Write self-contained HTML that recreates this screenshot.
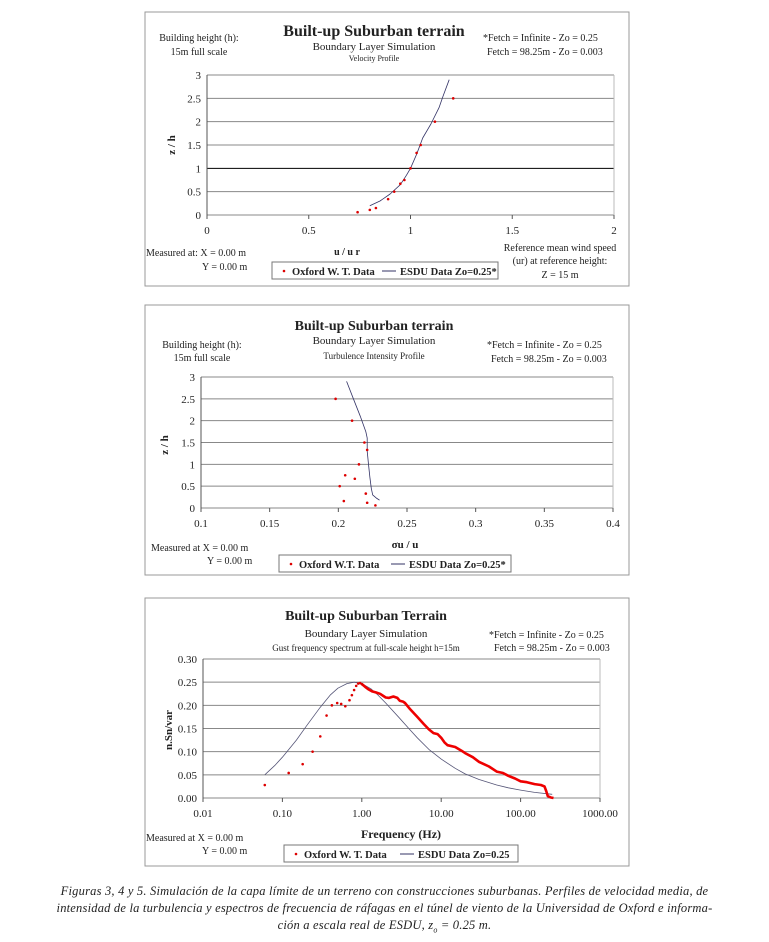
<!DOCTYPE html>
<html><head><meta charset="utf-8"><style>
body{margin:0;background:#fff;width:769px;height:942px;overflow:hidden;font-family:"Liberation Serif",serif}
svg text{font-family:"Liberation Serif",serif;fill:#222}
.cap{position:absolute;left:0;top:883px;width:769px;text-align:center;font-style:italic;font-size:12.5px;line-height:17px;color:#222;letter-spacing:0.2px}
</style></head><body>
<svg id="s" width="769" height="942" style="position:absolute;left:0;top:0">
<g id="c1"></g>
<g id="c2"></g>
<g id="c3"></g>
</svg>
<div class="cap">Figuras 3, 4 y 5. Simulación de la capa límite de un terreno con construcciones suburbanas. Perfiles de velocidad media, de<br>intensidad de la turbulencia y espectros de frecuencia de ráfagas en el túnel de viento de la Universidad de Oxford e informa-<br>ción a escala real de ESDU, <i>z</i><sub style="font-size:8px">o</sub> = 0.25 m.</div>
<script>
// Chart 1 data
const velX=[0.74,0.80,0.83,0.89,0.92,0.95,0.97,1.0,1.03,1.05,1.12,1.21];
const velZ=[0.06,0.11,0.15,0.34,0.5,0.67,0.75,1.0,1.33,1.5,2.0,2.5];
const velEsduX=[0.8,0.85,0.9,0.95,0.98,1.0,1.03,1.06,1.1,1.14,1.16,1.19];
const velEsduZ=[0.2,0.3,0.45,0.65,0.85,1.0,1.3,1.65,1.95,2.3,2.55,2.9];
const velXTicks=[0,0.5,1,1.5,2];
const zTicks=[0,0.5,1,1.5,2,2.5,3];
// Chart 2 data
const tiX=[0.198,0.210,0.219,0.221,0.215,0.205,0.212,0.201,0.220,0.204,0.221,0.227];
const tiZ=[2.5,2.0,1.5,1.33,1.0,0.75,0.67,0.5,0.33,0.16,0.12,0.06];
const tiEsduX=[0.206,0.211,0.216,0.220,0.221,0.221,0.222,0.223,0.224,0.225,0.228,0.230];
const tiEsduZ=[2.9,2.5,2.1,1.75,1.6,1.3,1.0,0.7,0.45,0.3,0.22,0.18];
const tiXTicks=[0.1,0.15,0.2,0.25,0.3,0.35,0.4];
// Chart 3 data
const spPtF=[0.06,0.12,0.18,0.24,0.30,0.36,0.42,0.49,0.55,0.62,0.70,0.75,0.8,0.85,0.9,0.95,1.0];
const spPtS=[0.028,0.054,0.073,0.10,0.133,0.178,0.20,0.205,0.203,0.198,0.211,0.222,0.233,0.242,0.247,0.248,0.246];
const spDenseF=[1.0,1.1,1.2,1.35,1.5,1.7,2,2.2,2.5,2.8,3,3.3,3.5,4,5,6,7,8,9,10,11,12,15,18,20,25,30,40,50,60,70,85,100,120,150,180,200,210,220,240,260];
const spDenseS=[0.246,0.24,0.235,0.23,0.228,0.225,0.217,0.216,0.219,0.216,0.21,0.208,0.205,0.193,0.175,0.16,0.148,0.14,0.138,0.13,0.12,0.114,0.11,0.102,0.097,0.088,0.078,0.068,0.057,0.054,0.048,0.042,0.036,0.034,0.030,0.028,0.025,0.015,0.004,0.001,0.0];
const spEsduF=[0.06,0.08,0.1,0.15,0.2,0.3,0.4,0.5,0.65,0.8,1,1.3,1.6,2,3,4,5,7,10,15,20,30,50,70,100,150,250];
const spEsduS=[0.05,0.07,0.088,0.125,0.155,0.196,0.222,0.237,0.247,0.25,0.247,0.236,0.222,0.205,0.172,0.148,0.13,0.105,0.084,0.064,0.052,0.04,0.028,0.022,0.017,0.012,0.008];
const spYTicks=[0,0.05,0.10,0.15,0.20,0.25,0.30];
const spXTicks=[0.01,0.1,1,10,100,1000];

const NS="http://www.w3.org/2000/svg";
function el(p,t,a,txt){const e=document.createElementNS(NS,t);for(const k in a)e.setAttribute(k,a[k]);if(txt!==undefined)e.textContent=txt;p.appendChild(e);return e;}

function chart(g,o){
  const box=el(g,'rect',{x:145,y:o.by,width:484,height:o.bh,fill:'#fff',stroke:'#999'});
  
  
  const sx=v=>o.x0+(o.fx(v)-o.fx(o.xmin))/(o.fx(o.xmax)-o.fx(o.xmin))*(o.x1-o.x0);
  const sy=v=>o.y0-(v-o.ymin)/(o.ymax-o.ymin)*(o.y0-o.y1);
  o.yt.forEach(v=>{
    const l=el(g,'line',{x1:o.x0,x2:o.x1,y1:sy(v),y2:sy(v),stroke:(o.dark&&v===1)?'#000':'#888','stroke-width':1});
    
    
    const t=el(g,'text',{x:o.x0-6,y:sy(v)+4,'font-size':11,'text-anchor':'end'},o.yfmt(v));
    
    
  });
  el(g,'line',{x1:o.x0,x2:o.x0,y1:o.y0,y2:o.y1,stroke:'#555'});
  el(g,'line',{x1:o.x1,x2:o.x1,y1:o.y0,y2:o.y1,stroke:'#bbb'});
  o.xt.forEach(v=>{
    el(g,'line',{x1:sx(v),x2:sx(v),y1:o.y0,y2:o.y0+4,stroke:'#555'});
    const t=el(g,'text',{x:sx(v),y:o.y0+19,'font-size':11,'text-anchor':'middle'},o.xfmt(v));
    
    
  });
  o.lines.forEach(L=>{
    const d=L.x.map((v,i)=>(i?'L':'M')+sx(v).toFixed(1)+','+sy(L.y[i]).toFixed(1)).join('');
    const p=el(g,'path',{d:d,fill:'none',stroke:L.c,'stroke-width':L.w,'stroke-linejoin':'round'});
    
    
  });
  o.pts.forEach(P=>{
    P.x.forEach((v,i)=>{
      const c=el(g,'circle',{cx:sx(v),cy:sy(P.y[i]),r:1.3,fill:'#d00'});
      
      
    });
  });
}
const lin=v=>v, lg=v=>Math.log10(v);
const c1=document.getElementById('c1'),c2=document.getElementById('c2'),c3=document.getElementById('c3');
chart(c1,{by:12,bh:274,x0:207,x1:614,y0:215,y1:75,xmin:0,xmax:2,ymin:0,ymax:3,fx:lin,xt:velXTicks,yt:zTicks,xfmt:v=>String(v),yfmt:v=>String(v),dark:true,
  lines:[{x:velEsduX,y:velEsduZ,c:'#336',w:0.8,name:'esdu-line'}],pts:[{x:velX,y:velZ}]});
chart(c2,{by:305,bh:270,x0:201,x1:613,y0:508,y1:377,xmin:0.1,xmax:0.4,ymin:0,ymax:3,fx:lin,xt:tiXTicks,yt:zTicks,xfmt:v=>String(v),yfmt:v=>String(v),
  lines:[{x:tiEsduX,y:tiEsduZ,c:'#336',w:0.8,name:'esdu-line'}],pts:[{x:tiX,y:tiZ}]});
chart(c3,{by:598,bh:268,x0:203,x1:600,y0:798,y1:659,xmin:0.01,xmax:1000,ymin:0,ymax:0.3,fx:lg,xt:spXTicks,yt:spYTicks,xfmt:v=>v.toFixed(2),yfmt:v=>v.toFixed(2),
  lines:[{x:spEsduF,y:spEsduS,c:'#557',w:0.8,name:'esdu-line'},{x:spDenseF,y:spDenseS,c:'#e00',w:2.6,name:'oxford-dense-line'}],pts:[{x:spPtF,y:spPtS}]});

function txt(g,x,y,s,sz,opt){const a={x:x,y:y,'font-size':sz,'text-anchor':(opt&&opt.a)||'start'};if(opt&&opt.b)a['font-weight']='bold';const t=el(g,'text',a,s);return t;}
function legend(g,x,y,w,a,b,lx){
  const r=el(g,'rect',{x:x,y:y,width:w,height:17,fill:'#fff',stroke:'#777'});
  
  
  el(g,'circle',{cx:x+12,cy:y+9,r:1.3,fill:'#d00'});
  txt(g,x+20,y+13,a,10.5,{b:1,n:'legend-entry'});
  el(g,'line',{x1:x+lx,x2:x+lx+14,y1:y+9,y2:y+9,stroke:'#336'});
  txt(g,x+lx+18,y+13,b,10.5,{b:1,n:'legend-entry'});
}
// chart 1 texts
txt(c1,374,36,'Built-up Suburban terrain',16,{a:'middle',b:1,n:'chart-title'});
txt(c1,374,50,'Boundary Layer Simulation',11,{a:'middle',n:'chart-subtitle'});
txt(c1,374,61,'Velocity Profile',8,{a:'middle'});
txt(c1,199,41,'Building height (h):',10,{a:'middle'});
txt(c1,199,55,'15m full scale',10,{a:'middle'});
txt(c1,483,41,'*Fetch = Infinite -  Zo = 0.25',10);
txt(c1,487,55,'Fetch = 98.25m - Zo = 0.003',10);
txt(c1,347,255,'u / u r',10,{a:'middle',b:1,n:'x-axis-title'});
txt(c1,146,256,'Measured at: X = 0.00 m',10);
txt(c1,202,270,'Y = 0.00 m',10);
txt(c1,560,251,'Reference mean wind speed',10,{a:'middle'});
txt(c1,560,264,'(ur)  at reference height:',10,{a:'middle'});
txt(c1,560,278,'Z = 15 m',10,{a:'middle'});
{const t=txt(c1,0,0,'z / h',11,{b:1,n:'y-axis-title'});t.setAttribute('transform','translate(175,145) rotate(-90)');t.setAttribute('text-anchor','middle');}
legend(c1,272,262,226,'Oxford W. T. Data','ESDU Data Zo=0.25*',110);
// chart 2
txt(c2,374,330,'Built-up Suburban terrain',14,{a:'middle',b:1,n:'chart-title'});
txt(c2,374,344,'Boundary Layer Simulation',11,{a:'middle',n:'chart-subtitle'});
txt(c2,374,359,'Turbulence Intensity Profile',9,{a:'middle'});
txt(c2,202,348,'Building height (h):',10,{a:'middle'});
txt(c2,202,361,'15m full scale',10,{a:'middle'});
txt(c2,487,348,'*Fetch = Infinite -  Zo = 0.25',10);
txt(c2,491,362,'Fetch = 98.25m -  Zo = 0.003',10);
txt(c2,405,548,'σu / u',11,{a:'middle',b:1,n:'x-axis-title'});
txt(c2,151,551,'Measured at  X = 0.00 m',10);
txt(c2,207,564,'Y = 0.00 m',10);
{const t=txt(c2,0,0,'z / h',11,{b:1,n:'y-axis-title'});t.setAttribute('transform','translate(168,445) rotate(-90)');t.setAttribute('text-anchor','middle');}
legend(c2,279,555,232,'Oxford W.T. Data','ESDU Data Zo=0.25*',112);
// chart 3
txt(c3,366,620,'Built-up Suburban Terrain',14,{a:'middle',b:1,n:'chart-title'});
txt(c3,366,637,'Boundary Layer Simulation',11,{a:'middle',n:'chart-subtitle'});
txt(c3,366,651,'Gust frequency spectrum at full-scale height h=15m',9,{a:'middle'});
txt(c3,489,638,'*Fetch = Infinite -  Zo = 0.25',10);
txt(c3,494,651,'Fetch = 98.25m - Zo = 0.003',10);
txt(c3,401,838,'Frequency (Hz)',12,{a:'middle',b:1,n:'x-axis-title'});
txt(c3,146,841,'Measured at  X = 0.00 m',10);
txt(c3,202,854,'Y = 0.00 m',10);
{const t=txt(c3,0,0,'n.Sn/var',11,{b:1,n:'y-axis-title'});t.setAttribute('transform','translate(172,730) rotate(-90)');t.setAttribute('text-anchor','middle');}
legend(c3,284,845,234,'Oxford W. T. Data','ESDU Data Zo=0.25',116);
</script>
</body></html>
